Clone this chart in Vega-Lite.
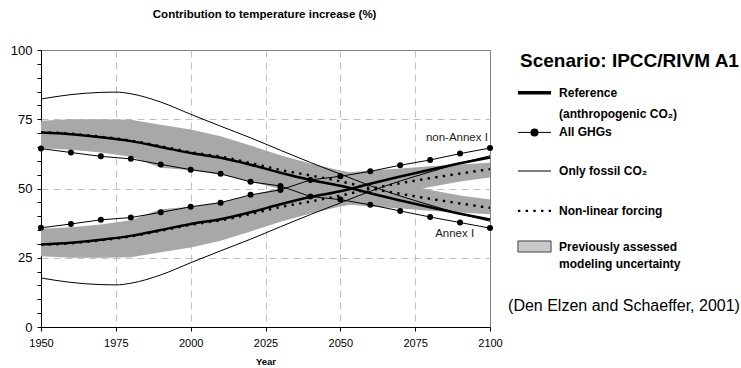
{
  "$schema": "https://vega.github.io/schema/vega-lite/v6.json",
  "padding": {"left": 9, "top": 9, "right": 3, "bottom": 1},
  "config": {"font": "Liberation Sans", "concat": {"spacing": 2}, "view": {"stroke": null}},
  "title": {"text": "Contribution to temperature increase (%)", "anchor": "start", "frame": "bounds", "dx": 143, "offset": 23, "fontSize": 11.5, "fontWeight": "bold", "font": "Liberation Sans", "color": "#000000"},
  "datasets": {
    "lines": [
      {"year":1950,"series":"ref","region":"AI","value":70.2},{"year":1960,"series":"ref","region":"AI","value":69.6},{"year":1970,"series":"ref","region":"AI","value":68.5},{"year":1980,"series":"ref","region":"AI","value":67.1},{"year":1990,"series":"ref","region":"AI","value":65.0},{"year":2000,"series":"ref","region":"AI","value":62.8},{"year":2010,"series":"ref","region":"AI","value":61.1},{"year":2020,"series":"ref","region":"AI","value":58.6},{"year":2030,"series":"ref","region":"AI","value":55.7},{"year":2040,"series":"ref","region":"AI","value":53.1},{"year":2050,"series":"ref","region":"AI","value":51.0},{"year":2060,"series":"ref","region":"AI","value":48.3},{"year":2070,"series":"ref","region":"AI","value":45.7},{"year":2080,"series":"ref","region":"AI","value":43.2},{"year":2090,"series":"ref","region":"AI","value":40.9},{"year":2100,"series":"ref","region":"AI","value":38.8},
      {"year":1950,"series":"ref","region":"NAI","value":29.8},{"year":1960,"series":"ref","region":"NAI","value":30.4},{"year":1970,"series":"ref","region":"NAI","value":31.5},{"year":1980,"series":"ref","region":"NAI","value":32.9},{"year":1990,"series":"ref","region":"NAI","value":35.0},{"year":2000,"series":"ref","region":"NAI","value":37.2},{"year":2010,"series":"ref","region":"NAI","value":38.9},{"year":2020,"series":"ref","region":"NAI","value":41.4},{"year":2030,"series":"ref","region":"NAI","value":44.3},{"year":2040,"series":"ref","region":"NAI","value":46.9},{"year":2050,"series":"ref","region":"NAI","value":49.0},{"year":2060,"series":"ref","region":"NAI","value":51.7},{"year":2070,"series":"ref","region":"NAI","value":54.3},{"year":2080,"series":"ref","region":"NAI","value":56.8},{"year":2090,"series":"ref","region":"NAI","value":59.1},{"year":2100,"series":"ref","region":"NAI","value":61.2},
      {"year":1950,"series":"nonlin","region":"AI","value":70.3},{"year":1960,"series":"nonlin","region":"AI","value":69.8},{"year":1970,"series":"nonlin","region":"AI","value":68.7},{"year":1980,"series":"nonlin","region":"AI","value":67.3},{"year":1990,"series":"nonlin","region":"AI","value":65.3},{"year":2000,"series":"nonlin","region":"AI","value":63.1},{"year":2010,"series":"nonlin","region":"AI","value":61.5},{"year":2020,"series":"nonlin","region":"AI","value":59.2},{"year":2030,"series":"nonlin","region":"AI","value":56.7},{"year":2040,"series":"nonlin","region":"AI","value":54.7},{"year":2050,"series":"nonlin","region":"AI","value":52.6},{"year":2060,"series":"nonlin","region":"AI","value":50.1},{"year":2070,"series":"nonlin","region":"AI","value":48.1},{"year":2080,"series":"nonlin","region":"AI","value":46.3},{"year":2090,"series":"nonlin","region":"AI","value":44.6},{"year":2100,"series":"nonlin","region":"AI","value":43.0},
      {"year":1950,"series":"nonlin","region":"NAI","value":29.7},{"year":1960,"series":"nonlin","region":"NAI","value":30.2},{"year":1970,"series":"nonlin","region":"NAI","value":31.3},{"year":1980,"series":"nonlin","region":"NAI","value":32.7},{"year":1990,"series":"nonlin","region":"NAI","value":34.7},{"year":2000,"series":"nonlin","region":"NAI","value":36.9},{"year":2010,"series":"nonlin","region":"NAI","value":38.5},{"year":2020,"series":"nonlin","region":"NAI","value":40.8},{"year":2030,"series":"nonlin","region":"NAI","value":43.3},{"year":2040,"series":"nonlin","region":"NAI","value":45.3},{"year":2050,"series":"nonlin","region":"NAI","value":47.4},{"year":2060,"series":"nonlin","region":"NAI","value":49.9},{"year":2070,"series":"nonlin","region":"NAI","value":51.9},{"year":2080,"series":"nonlin","region":"NAI","value":53.7},{"year":2090,"series":"nonlin","region":"NAI","value":55.4},{"year":2100,"series":"nonlin","region":"NAI","value":57.0},
      {"year":1950,"series":"ghg","region":"AI","value":64.4},{"year":1960,"series":"ghg","region":"AI","value":63.0},{"year":1970,"series":"ghg","region":"AI","value":61.6},{"year":1980,"series":"ghg","region":"AI","value":60.7},{"year":1990,"series":"ghg","region":"AI","value":58.7},{"year":2000,"series":"ghg","region":"AI","value":56.8},{"year":2010,"series":"ghg","region":"AI","value":55.3},{"year":2020,"series":"ghg","region":"AI","value":52.4},{"year":2030,"series":"ghg","region":"AI","value":50.9},{"year":2040,"series":"ghg","region":"AI","value":47.1},{"year":2050,"series":"ghg","region":"AI","value":46.0},{"year":2060,"series":"ghg","region":"AI","value":44.1},{"year":2070,"series":"ghg","region":"AI","value":41.9},{"year":2080,"series":"ghg","region":"AI","value":39.7},{"year":2090,"series":"ghg","region":"AI","value":37.7},{"year":2100,"series":"ghg","region":"AI","value":35.7},
      {"year":1950,"series":"ghg","region":"NAI","value":35.8},{"year":1960,"series":"ghg","region":"NAI","value":37.2},{"year":1970,"series":"ghg","region":"NAI","value":38.7},{"year":1980,"series":"ghg","region":"NAI","value":39.5},{"year":1990,"series":"ghg","region":"NAI","value":41.4},{"year":2000,"series":"ghg","region":"NAI","value":43.4},{"year":2010,"series":"ghg","region":"NAI","value":44.9},{"year":2020,"series":"ghg","region":"NAI","value":47.7},{"year":2030,"series":"ghg","region":"NAI","value":49.5},{"year":2040,"series":"ghg","region":"NAI","value":53.1},{"year":2050,"series":"ghg","region":"NAI","value":54.4},{"year":2060,"series":"ghg","region":"NAI","value":56.2},{"year":2070,"series":"ghg","region":"NAI","value":58.4},{"year":2080,"series":"ghg","region":"NAI","value":60.3},{"year":2090,"series":"ghg","region":"NAI","value":62.6},{"year":2100,"series":"ghg","region":"NAI","value":64.6},
      {"year":1950,"series":"fossil","region":"AI","value":82.3},{"year":1960,"series":"fossil","region":"AI","value":83.9},{"year":1970,"series":"fossil","region":"AI","value":84.7},{"year":1975,"series":"fossil","region":"AI","value":84.8},{"year":1980,"series":"fossil","region":"AI","value":84.2},{"year":1990,"series":"fossil","region":"AI","value":81.2},{"year":2000,"series":"fossil","region":"AI","value":76.8},{"year":2010,"series":"fossil","region":"AI","value":72.5},{"year":2020,"series":"fossil","region":"AI","value":68.3},{"year":2030,"series":"fossil","region":"AI","value":63.8},{"year":2040,"series":"fossil","region":"AI","value":59.4},{"year":2050,"series":"fossil","region":"AI","value":55.2},{"year":2060,"series":"fossil","region":"AI","value":51.0},{"year":2070,"series":"fossil","region":"AI","value":47.3},{"year":2080,"series":"fossil","region":"AI","value":44.0},{"year":2090,"series":"fossil","region":"AI","value":40.9},{"year":2100,"series":"fossil","region":"AI","value":38.2},
      {"year":1950,"series":"fossil","region":"NAI","value":17.7},{"year":1960,"series":"fossil","region":"NAI","value":16.1},{"year":1970,"series":"fossil","region":"NAI","value":15.3},{"year":1975,"series":"fossil","region":"NAI","value":15.2},{"year":1980,"series":"fossil","region":"NAI","value":15.8},{"year":1990,"series":"fossil","region":"NAI","value":18.8},{"year":2000,"series":"fossil","region":"NAI","value":23.2},{"year":2010,"series":"fossil","region":"NAI","value":27.5},{"year":2020,"series":"fossil","region":"NAI","value":31.7},{"year":2030,"series":"fossil","region":"NAI","value":36.2},{"year":2040,"series":"fossil","region":"NAI","value":40.6},{"year":2050,"series":"fossil","region":"NAI","value":44.8},{"year":2060,"series":"fossil","region":"NAI","value":49.0},{"year":2070,"series":"fossil","region":"NAI","value":52.7},{"year":2080,"series":"fossil","region":"NAI","value":56.0},{"year":2090,"series":"fossil","region":"NAI","value":59.1},{"year":2100,"series":"fossil","region":"NAI","value":61.8}
    ],
    "band": [
      {"year":1950,"region":"AI","value":64.5,"hi":74.5},{"year":1960,"region":"AI","value":64.0,"hi":75.0},{"year":1970,"region":"AI","value":63.0,"hi":75.0},{"year":1980,"region":"AI","value":61.5,"hi":74.8},{"year":1990,"region":"AI","value":57.5,"hi":73.0},{"year":2000,"region":"AI","value":56.6,"hi":71.3},{"year":2010,"region":"AI","value":55.0,"hi":68.9},{"year":2020,"region":"AI","value":52.5,"hi":65.5},{"year":2030,"region":"AI","value":49.8,"hi":62.0},{"year":2040,"region":"AI","value":46.5,"hi":59.0},{"year":2050,"region":"AI","value":44.5,"hi":56.5},{"year":2060,"region":"AI","value":43.5,"hi":54.5},{"year":2070,"region":"AI","value":42.8,"hi":51.8},{"year":2080,"region":"AI","value":42.0,"hi":49.5},{"year":2090,"region":"AI","value":41.3,"hi":47.5},{"year":2100,"region":"AI","value":40.7,"hi":46.0},
      {"year":1950,"region":"NAI","value":25.5,"hi":35.5},{"year":1960,"region":"NAI","value":25.0,"hi":36.0},{"year":1970,"region":"NAI","value":25.0,"hi":37.0},{"year":1980,"region":"NAI","value":25.2,"hi":38.5},{"year":1990,"region":"NAI","value":27.0,"hi":42.5},{"year":2000,"region":"NAI","value":28.7,"hi":43.4},{"year":2010,"region":"NAI","value":31.1,"hi":45.0},{"year":2020,"region":"NAI","value":34.5,"hi":47.5},{"year":2030,"region":"NAI","value":38.0,"hi":50.2},{"year":2040,"region":"NAI","value":41.0,"hi":53.5},{"year":2050,"region":"NAI","value":43.5,"hi":55.5},{"year":2060,"region":"NAI","value":45.5,"hi":56.5},{"year":2070,"region":"NAI","value":48.2,"hi":57.2},{"year":2080,"region":"NAI","value":50.5,"hi":58.0},{"year":2090,"region":"NAI","value":52.5,"hi":58.7},{"year":2100,"region":"NAI","value":54.0,"hi":59.3}
    ],
    "labels": [
      {"year":2099.3,"value":68.4,"text":"non-Annex I"},
      {"year":2094.7,"value":33.5,"text":"Annex I"}
    ],
    "legend": [
      {"role":"title","label":"Scenario: IPCC/RIVM A1","lx":6.4,"ly":0.66},
      {"role":"item","label":"Reference","lx":23,"ly":2.47},
      {"role":"item","label":"(anthropogenic CO₂)","lx":23,"ly":3.72},
      {"role":"item","label":"All GHGs","lx":23,"ly":4.76},
      {"role":"item","label":"Only fossil CO₂","lx":23,"ly":6.99},
      {"role":"item","label":"Non-linear forcing","lx":23,"ly":9.29},
      {"role":"item","label":"Previously assessed","lx":23,"ly":11.37},
      {"role":"item","label":"modeling uncertainty","lx":23,"ly":12.36},
      {"role":"source","label":"(Den Elzen and Schaeffer, 2001)","lx":1.3,"ly":14.77}
    ],
    "legendSym": [
      {"item":"ref","lx":5.5,"lx2":19.6,"ly":2.47},
      {"item":"ghg","lx":5.5,"lx2":19.6,"ly":4.76},
      {"item":"fossil","lx":5.5,"lx2":19.6,"ly":6.99},
      {"item":"nonlin","lx":5.5,"lx2":19.6,"ly":9.29},
      {"item":"band","lx":5.5,"lx2":19.6,"ly":11.03,"ly2":11.67},
      {"item":"ghgdot","lx":12.55,"ly":4.76}
    ]
  },
  "hconcat": [
    {
      "width": 449,
      "height": 277,
      "view": {"stroke": "#808080", "strokeWidth": 1},
      "encoding": {
        "x": {"field": "year", "type": "quantitative",
          "scale": {"domain": [1950, 2100], "nice": false, "zero": false},
          "axis": {"values": [1950, 1975, 2000, 2025, 2050, 2075, 2100], "format": "d", "title": "Year",
            "titleFontSize": 9.5, "titleFontWeight": "bold", "titleFont": "Liberation Sans", "titleColor": "#000000", "titlePadding": 8,
            "labelFontSize": 11, "labelFont": "Liberation Sans", "labelColor": "#000000", "labelPadding": 6, "labelFlush": false,
            "tickSize": 4, "tickColor": "#000000", "domainColor": "#000000",
            "grid": true, "gridColor": "#c0c0c0", "gridDash": [7, 5],
            "gridOpacity": {"condition": {"test": "datum.value > 1950 && datum.value < 2100", "value": 1}, "value": 0}}},
        "y": {"field": "value", "type": "quantitative",
          "scale": {"domain": [0, 100], "nice": false},
          "axis": {"values": [0,5,10,15,20,25,30,35,40,45,50,55,60,65,70,75,80,85,90,95,100],
            "labelExpr": "datum.value % 25 === 0 ? datum.label : ''", "title": null,
            "labelFontSize": 13, "labelFont": "Liberation Sans", "labelColor": "#000000", "labelPadding": 5, "labelFlush": false,
            "tickSize": 4, "tickColor": "#000000", "domainColor": "#000000",
            "grid": true, "gridColor": "#c0c0c0", "gridDash": [7, 5],
            "gridOpacity": {"condition": {"test": "datum.value % 25 === 0 && datum.value > 0 && datum.value < 100", "value": 1}, "value": 0}}}
      },
      "layer": [
        {"data": {"name": "band"}, "mark": {"type": "area", "color": "#a8a8a8", "opacity": 1},
          "encoding": {"y2": {"field": "hi"}, "detail": {"field": "region"}}},
        {"data": {"name": "lines"}, "transform": [{"filter": "datum.series === 'fossil'"}],
          "mark": {"type": "line", "color": "#000000", "strokeWidth": 1, "interpolate": "monotone"},
          "encoding": {"detail": {"field": "region"}}},
        {"data": {"name": "lines"}, "transform": [{"filter": "datum.series === 'ref'"}],
          "mark": {"type": "line", "color": "#000000", "strokeWidth": 2.5, "interpolate": "monotone"},
          "encoding": {"detail": {"field": "region"}}},
        {"data": {"name": "lines"}, "transform": [{"filter": "datum.series === 'nonlin'"}],
          "mark": {"type": "line", "color": "#000000", "strokeWidth": 2.4, "strokeDash": [2.4, 5.3], "strokeCap": "butt", "interpolate": "monotone"},
          "encoding": {"detail": {"field": "region"}}},
        {"data": {"name": "lines"}, "transform": [{"filter": "datum.series === 'ghg'"}],
          "mark": {"type": "line", "color": "#000000", "strokeWidth": 1},
          "encoding": {"detail": {"field": "region"}}},
        {"data": {"name": "lines"}, "transform": [{"filter": "datum.series === 'ghg'"}],
          "mark": {"type": "circle", "color": "#000000", "size": 36, "opacity": 1},
          "encoding": {"detail": {"field": "region"}}},
        {"data": {"name": "labels"},
          "mark": {"type": "text", "align": "right", "baseline": "middle", "fontSize": 11.5, "font": "Liberation Sans", "color": "#222222"},
          "encoding": {"text": {"field": "text"}}}
      ]
    },
    {
      "width": 235,
      "height": 277,
      "view": {"stroke": null},
      "encoding": {
        "x": {"field": "lx", "type": "quantitative", "scale": {"domain": [0, 100]}, "axis": null},
        "y": {"field": "ly", "type": "quantitative", "scale": {"domain": [0, 16], "reverse": true}, "axis": null}
      },
      "layer": [
        {"data": {"name": "legendSym"}, "transform": [{"filter": "datum.item === 'band'"}],
          "mark": {"type": "rect", "fill": "#c8c8c8", "stroke": "#404040", "strokeWidth": 1},
          "encoding": {"x2": {"field": "lx2"}, "y2": {"field": "ly2"}}},
        {"data": {"name": "legendSym"}, "transform": [{"filter": "datum.item === 'ref'"}],
          "mark": {"type": "rule", "color": "#000000", "strokeWidth": 3.3},
          "encoding": {"x2": {"field": "lx2"}}},
        {"data": {"name": "legendSym"}, "transform": [{"filter": "datum.item === 'ghg' || datum.item === 'fossil'"}],
          "mark": {"type": "rule", "color": "#000000", "strokeWidth": 1},
          "encoding": {"x2": {"field": "lx2"}}},
        {"data": {"name": "legendSym"}, "transform": [{"filter": "datum.item === 'nonlin'"}],
          "mark": {"type": "rule", "color": "#000000", "strokeWidth": 2.4, "strokeDash": [2.4, 5.3], "strokeCap": "butt"},
          "encoding": {"x2": {"field": "lx2"}}},
        {"data": {"name": "legendSym"}, "transform": [{"filter": "datum.item === 'ghgdot'"}],
          "mark": {"type": "circle", "color": "#000000", "size": 64, "opacity": 1}},
        {"data": {"name": "legend"}, "transform": [{"filter": "datum.role === 'title'"}],
          "mark": {"type": "text", "align": "left", "baseline": "middle", "fontSize": 19, "fontWeight": "bold", "font": "Liberation Sans", "color": "#000000"},
          "encoding": {"text": {"field": "label"}}},
        {"data": {"name": "legend"}, "transform": [{"filter": "datum.role === 'item'"}],
          "mark": {"type": "text", "align": "left", "baseline": "middle", "fontSize": 12, "fontWeight": "bold", "font": "Liberation Sans", "color": "#000000"},
          "encoding": {"text": {"field": "label"}}},
        {"data": {"name": "legend"}, "transform": [{"filter": "datum.role === 'source'"}],
          "mark": {"type": "text", "align": "left", "baseline": "middle", "fontSize": 16, "font": "Liberation Sans", "color": "#000000"},
          "encoding": {"text": {"field": "label"}}}
      ]
    }
  ]
}
